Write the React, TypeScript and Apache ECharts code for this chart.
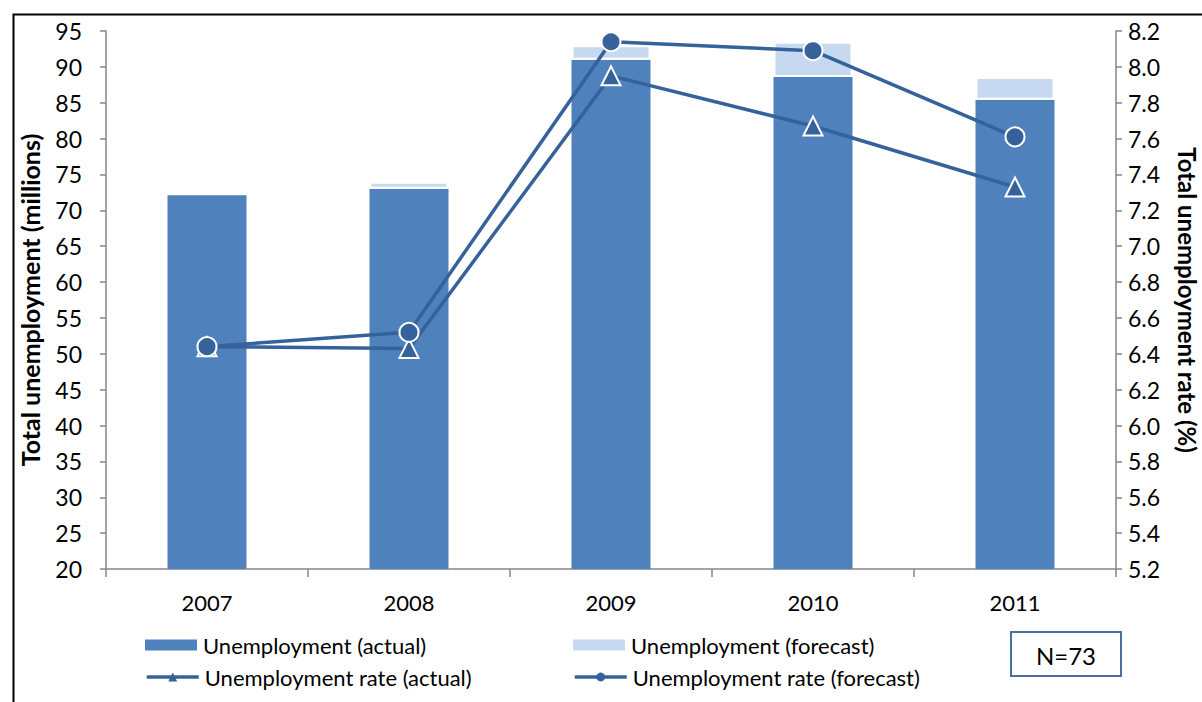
import React, { useEffect, useRef } from "react";
import * as echarts from "echarts";

const years = ["2007", "2008", "2009", "2010", "2011"];
const unemploymentActual = [72.1, 73.0, 91.0, 88.6, 85.4];
const unemploymentForecastExtra = [null, 1.0, 2.0, 4.9, 3.2];
const rateActual = [6.44, 6.43, 7.95, 7.67, 7.33];
const rateForecast = [6.44, 6.52, 8.14, 8.09, 7.61];
const seriesNames = [
  "Unemployment (actual)",
  "Unemployment (forecast)",
  "Unemployment rate (actual)",
  "Unemployment rate (forecast)",
];
const leftAxis = { min: 20, max: 95, interval: 5 };
const rightAxis = { min: 5.2, max: 8.2, interval: 0.2 };
const sampleSize = "N=73";

const FONT = "Lato, 'Noto Sans', sans-serif";
const AXIS_GRAY = "#868686";
const LINE_BLUE = "#35629a";

export default function App() {
  const ref = useRef<HTMLDivElement>(null);
  useEffect(() => {
    document.body.style.margin = "0";
    document.body.style.overflow = "hidden";
    if (!ref.current) return;
    const chart = echarts.init(ref.current, undefined, { renderer: "svg", width: 1202, height: 702 });
    const legendBase = {
      orient: "horizontal",
      itemWidth: 52,
      itemHeight: 11,
      itemGap: 0,
      padding: 0,
      selectedMode: false,
      textStyle: { fontFamily: FONT, fontSize: 22, color: "#000", padding: [0, 0, 0, 1] },
      itemStyle: { borderWidth: 0 },
      lineStyle: { width: 3.5 },
    };
    chart.setOption({
      animation: false,
      textStyle: { fontFamily: FONT },
      grid: {
        left: 106,
        width: 1010,
        top: 31,
        height: 538,
        containLabel: false,
        outerBoundsMode: "none",
      },
      legend: [
        { ...legendBase, left: 145, top: 634, data: [{ name: seriesNames[0], icon: "rect" }] },
        { ...legendBase, left: 573, top: 634, data: [{ name: seriesNames[1], icon: "rect" }] },
        { ...legendBase, left: 145, top: 666, data: [{ name: seriesNames[2] }] },
        { ...legendBase, left: 573, top: 666, data: [{ name: seriesNames[3] }] },
      ],
      xAxis: {
        type: "category",
        data: years,
        axisLine: { lineStyle: { color: AXIS_GRAY, width: 1.5 } },
        axisTick: { show: true, length: 8, lineStyle: { color: AXIS_GRAY, width: 1.5 } },
        axisLabel: { fontFamily: FONT, fontSize: 22, color: "#000", margin: 22 },
      },
      yAxis: [
        {
          type: "value",
          ...leftAxis,
          name: "Total unemployment (millions)",
          nameLocation: "middle",
          nameGap: 64,
          nameTextStyle: { fontFamily: FONT, fontSize: 25, fontWeight: "bold", color: "#000" },
          axisLine: { show: true, lineStyle: { color: AXIS_GRAY, width: 1.5 } },
          axisTick: { show: true, length: 6, lineStyle: { color: AXIS_GRAY, width: 1.5 } },
          axisLabel: { fontFamily: FONT, fontSize: 23, color: "#000", margin: 24 },
          splitLine: { show: false },
        },
        {
          type: "value",
          ...rightAxis,
          position: "right",
          name: "Total unemployment rate (%)",
          nameLocation: "middle",
          nameGap: 59,
          nameRotate: -90,
          nameTextStyle: { fontFamily: FONT, fontSize: 24, fontWeight: "bold", color: "#000" },
          axisLine: { show: true, lineStyle: { color: AXIS_GRAY, width: 1.5 } },
          axisTick: { show: true, length: 6, lineStyle: { color: AXIS_GRAY, width: 1.5 } },
          axisLabel: {
            fontFamily: FONT,
            fontSize: 23,
            color: "#000",
            margin: 12,
            formatter: (v: number) => v.toFixed(1),
          },
          splitLine: { show: false },
        },
      ],
      series: [
        {
          name: seriesNames[0],
          type: "bar",
          stack: "u",
          barWidth: 79,
          data: unemploymentActual,
          itemStyle: { color: "#4f81bd" },
          z: 2,
        },
        {
          name: seriesNames[1],
          type: "bar",
          stack: "u",
          barWidth: 79,
          data: unemploymentForecastExtra,
          itemStyle: { color: "#c6d9f1", borderColor: "#ffffff", borderWidth: 2 },
          z: 2,
        },
        {
          name: seriesNames[2],
          type: "line",
          yAxisIndex: 1,
          data: rateActual,
          symbol: "triangle",
          symbolSize: 19,
          lineStyle: { color: LINE_BLUE, width: 3.5 },
          itemStyle: { color: LINE_BLUE, borderColor: "#ffffff", borderWidth: 2 },
          z: 3,
        },
        {
          name: seriesNames[3],
          type: "line",
          yAxisIndex: 1,
          data: rateForecast,
          symbol: "circle",
          symbolSize: 19,
          lineStyle: { color: LINE_BLUE, width: 3.5 },
          itemStyle: { color: LINE_BLUE, borderColor: "#ffffff", borderWidth: 2 },
          z: 4,
        },
      ],
      graphic: [
        {
          type: "rect",
          silent: true,
          z: -1,
          shape: { x: 13.5, y: 14.5, width: 1400, height: 900 },
          style: { fill: "none", stroke: "#000", lineWidth: 2 },
        },
        {
          type: "rect",
          silent: true,
          shape: { x: 1011, y: 632, width: 110, height: 44 },
          style: { fill: "#fff", stroke: "#4a6fa0", lineWidth: 2 },
        },
        {
          type: "text",
          silent: true,
          x: 1066,
          y: 655,
          style: {
            text: sampleSize,
            fontFamily: FONT,
            fontSize: 24,
            fill: "#000",
            align: "center",
            verticalAlign: "middle",
          },
        },
      ],
    });
    return () => chart.dispose();
  }, []);
  return <div ref={ref} style={{ width: 1202, height: 702, background: "#fff" }} />;
}
